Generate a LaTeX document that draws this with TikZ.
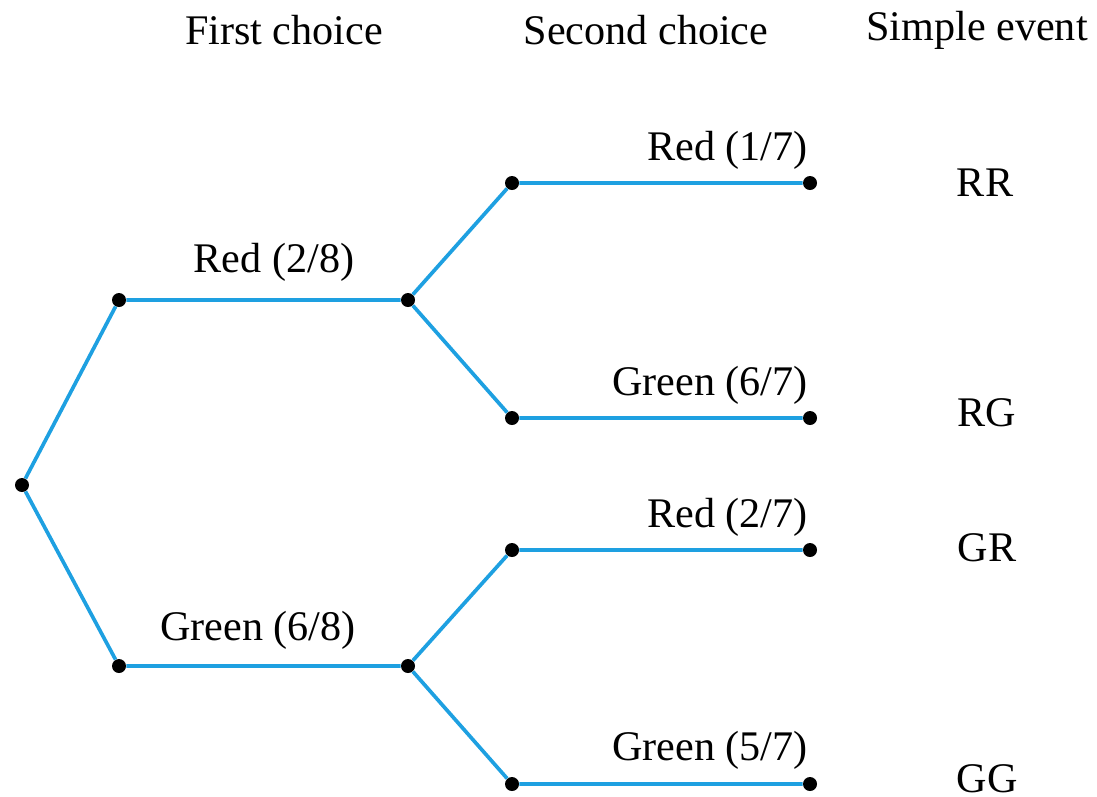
\documentclass[tikz,border=0pt]{standalone}
\usepackage{fontspec}
\setmainfont{Liberation Serif}
\begin{document}
\begin{tikzpicture}[x=0.02cm,y=-0.02cm,
  dot/.style={circle,fill=black,inner sep=0pt,minimum size=14*0.02cm},
  branch/.style={draw={rgb,255:red,30;green,160;blue,225},line width=2.1pt},
  lbl/.style={font=\fontsize{24}{28}\selectfont,inner sep=0pt}]
\useasboundingbox (0,0) rectangle (1097,796);
\node[lbl] (h1) at (284,30) {First choice};
\node[lbl] (h2) at (646,30) {Second choice};
\node[lbl] (h3) at (977,30) {Simple event};
\node[dot] (o) at (22,485) {};
\node[dot] (a1) at (119,300) {};
\node[dot] (a2) at (408,300) {};
\node[dot] (c1) at (119,666) {};
\node[dot] (c2) at (408,666) {};
\node[dot] (r1) at (512,183) {};
\node[dot] (r2) at (810,183) {};
\node[dot] (g1) at (512,418) {};
\node[dot] (g2) at (810,418) {};
\node[dot] (s1) at (512,550) {};
\node[dot] (s2) at (810,550) {};
\node[dot] (t1) at (512,784) {};
\node[dot] (t2) at (810,784) {};
\draw[branch] (o) -- (a1) -- (a2) -- (r1) -- (r2);
\draw[branch] (a2) -- (g1) -- (g2);
\draw[branch] (o) -- (c1) -- (c2) -- (s1) -- (s2);
\draw[branch] (c2) -- (t1) -- (t2);
\node[lbl] (l1) at (274,262) {Red (2/8)};
\node[lbl] (l2) at (258,630) {Green (6/8)};
\node[lbl,anchor=east] (l3) at (808,150) {Red (1/7)};
\node[lbl,anchor=east] (l4) at (808,385) {Green (6/7)};
\node[lbl,anchor=east] (l5) at (808,517) {Red (2/7)};
\node[lbl,anchor=east] (l6) at (808,750) {Green (5/7)};
\node[lbl] (e1) at (985,183) {RR};
\node[lbl] (e2) at (987,413) {RG};
\node[lbl] (e3) at (987,548) {GR};
\node[lbl] (e4) at (987,779) {GG};
\end{tikzpicture}
\end{document}
